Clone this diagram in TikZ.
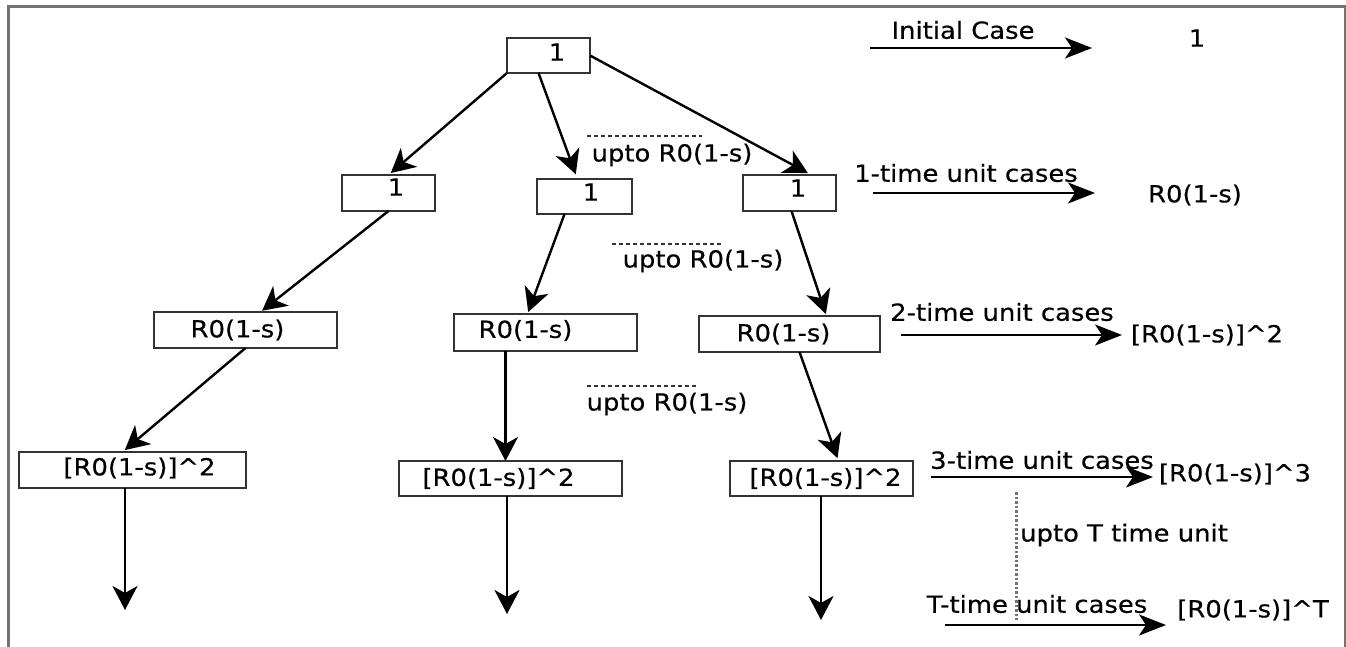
\documentclass[tikz,border=0pt]{standalone}
\usepackage{fontspec}
\setmainfont{DejaVu Sans}[FakeStretch=1.1,FakeBold=0.4]
\usetikzlibrary{arrows.meta}
\begin{document}
\begin{tikzpicture}[x=1pt,y=-1pt,
  font=\fontsize{23.5}{27}\selectfont,
  box/.style={draw=black!80, line width=2.8pt, inner sep=0pt, outer sep=0pt},
  arr/.style={-{Stealth[length=24pt,width=25pt,inset=7pt]}, line width=2.4pt},
  harr/.style={-{Stealth[length=27pt,width=21pt,inset=7pt]}, line width=2.4pt},
  lbl/.style={inner sep=0pt},
  dashline/.style={black!80, line width=2pt, dash pattern=on 4pt off 3pt},
  frameline/.style={black!55, line width=3pt}]
\useasboundingbox (0,0) rectangle (1346,647);
\draw[frameline] (8,647) -- (8,7) -- (1345,7) -- (1345,647);

% boxes
\node[box, minimum width=83pt, minimum height=35pt, label={[xshift=8.5pt,yshift=3.5pt]center:1}] (t) at (548.5,55.5) {};
\node[box, minimum width=93pt, minimum height=36pt, label={[xshift=7.5pt,yshift=6pt]center:1}] (l1) at (388.5,193) {};
\node[box, minimum width=95pt, minimum height=35pt, label={[xshift=6.5pt,yshift=4.5pt]center:1}] (m1) at (584.5,196.5) {};
\node[box, minimum width=93pt, minimum height=36pt, label={[xshift=8.5pt,yshift=5pt]center:1}] (r1) at (789.5,193) {};
\node[box, minimum width=183pt, minimum height=36pt, label={[xshift=-8pt]center:R0(1-s)}] (l2) at (245.5,330) {};
\node[box, minimum width=183pt, minimum height=37pt, label={[xshift=-20pt,yshift=2pt]center:R0(1-s)}] (m2) at (545.5,332.5) {};
\node[box, minimum width=181pt, minimum height=36pt, label={[xshift=-6pt]center:R0(1-s)}] (r2) at (789.5,334) {};
\node[box, minimum width=227pt, minimum height=36pt, label={[xshift=7pt,yshift=2pt]center:[R0(1-s)]\textasciicircum2}] (l3) at (132.5,470) {};
\node[box, minimum width=223pt, minimum height=35pt, label={[xshift=-12pt]center:[R0(1-s)]\textasciicircum2}] (m3) at (510.5,478.5) {};
\node[box, minimum width=183pt, minimum height=35pt, label={[xshift=4pt]center:[R0(1-s)]\textasciicircum2}] (r3) at (821.5,478.5) {};

% tree arrows
\draw[arr, shorten >=3pt] (t.south west) -- (l1.north);
\draw[arr, shorten >=5pt] ([xshift=-10pt]t.south) -- ([xshift=-7pt]m1.north);
\draw[arr, shorten >=4pt] (t.east) -- ([xshift=22pt]r1.north);
\draw[arr, shorten >=2pt] (l1.south) -- ([xshift=15pt]l2.north);
\draw[arr, shorten >=2pt] ([xshift=-20pt]m1.south) -- ([xshift=-18pt]m2.north);
\draw[arr, shorten >=2pt] ([xshift=2pt]r1.south) -- ([xshift=37pt]r2.north);
\draw[arr, shorten >=3pt] (l2.south) -- ([xshift=-10pt]l3.north);
\draw[arr] ([xshift=-40pt]m2.south) -- ([xshift=-40pt]m2.south |- m3.north);
\draw[arr, shorten >=3pt] ([xshift=10pt]r2.south) -- ([xshift=17pt]r3.north);

\coordinate (le) at (125,610);
\coordinate (me) at (507,614);
\coordinate (re) at (821,620);
\draw[arr] (l3.south -| le) -- (le);
\draw[arr] (m3.south -| me) -- (me);
\draw[arr] (r3.south -| re) -- (re);

% upto labels
\coordinate (d1a) at (587,136); \coordinate (d1b) at (702,136);
\draw[dashline] (d1a) -- (d1b);
\node[lbl] (u1) at (672,155) {upto R0(1-s)};
\coordinate (d2a) at (612,244); \coordinate (d2b) at (723,244);
\draw[dashline] (d2a) -- (d2b);
\node[lbl] (u2) at (703,261) {upto R0(1-s)};
\coordinate (d3a) at (587,386); \coordinate (d3b) at (698,386);
\draw[dashline] (d3a) -- (d3b);
\node[lbl] (u3) at (667,404) {upto R0(1-s)};

% right column
\node[lbl] (c0) at (963,30) {Initial Case};
\coordinate (a0s) at (870,48); \coordinate (a0e) at (1092,48);
\draw[harr] (a0s) -- (a0e);
\node[lbl] (v0) at (1197,38) {1};

\node[lbl] (c1) at (966,173) {1-time unit cases};
\coordinate (a1s) at (873,193); \coordinate (a1e) at (1095,193);
\draw[harr] (a1s) -- (a1e);
\node[lbl] (v1) at (1195,195) {R0(1-s)};

\node[lbl] (c2) at (1002,312) {2-time unit cases};
\coordinate (a2s) at (901,335); \coordinate (a2e) at (1122,335);
\draw[harr] (a2s) -- (a2e);
\node[lbl] (v2) at (1207,335) {[R0(1-s)]\textasciicircum2};

\node[lbl] (c3) at (1042,460) {3-time unit cases};
\coordinate (a3s) at (931,477); \coordinate (a3e) at (1153,477);
\draw[harr] (a3s) -- (a3e);
\node[lbl] (v3) at (1235,474) {[R0(1-s)]\textasciicircum3};

\coordinate (dva) at (1016,492); \coordinate (dvb) at (1016,620);
\draw[black!55, line width=3pt, dash pattern=on 2.5pt off 2pt] (dva) -- (dvb);
\node[lbl] (uT) at (1124,535) {upto T time unit};

\node[lbl] (cT) at (1037,604) {T-time unit cases};
\coordinate (aTs) at (945,625); \coordinate (aTe) at (1166,625);
\draw[harr] (aTs) -- (aTe);
\node[lbl] (vT) at (1253,610) {[R0(1-s)]\textasciicircum T};
\end{tikzpicture}
\end{document}
